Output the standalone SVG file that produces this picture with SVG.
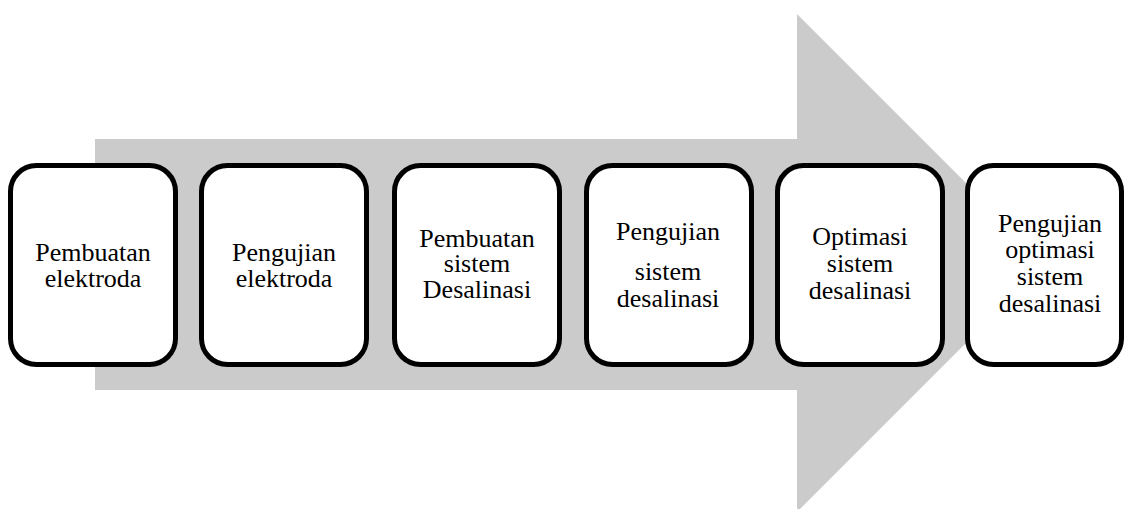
<svg xmlns="http://www.w3.org/2000/svg" width="1126" height="509" viewBox="0 0 1126 509">
<style>
.box{fill:#ffffff;stroke:#000000;stroke-width:5}
.lbl{font-size:26px;fill:#000000;text-anchor:middle}
</style>
<rect width="1126" height="509" fill="#ffffff"/>
<g id="connectors">
<path d="M95,139 L797,139 L797,14 L1046,263 L797,512 L797,390 L95,390 Z" fill="#cbcbcb"/>
</g>
<g font-family="'Liberation Serif', Tinos, 'Times New Roman', 'DejaVu Serif', serif">
<g id="n1">
<rect class="box" x="10.5" y="165.5" width="165" height="199" rx="26"/>
<text class="lbl" x="93" y="261">Pembuatan</text>
<text class="lbl" x="93" y="287">elektroda</text>
</g>
<g id="n2">
<rect class="box" x="201.5" y="165.5" width="165" height="199" rx="26"/>
<text class="lbl" x="284" y="261">Pengujian</text>
<text class="lbl" x="284" y="287">elektroda</text>
</g>
<g id="n3">
<rect class="box" x="394.5" y="165.5" width="165" height="199" rx="26"/>
<text class="lbl" x="477" y="247">Pembuatan</text>
<text class="lbl" x="477" y="272">sistem</text>
<text class="lbl" x="477" y="298">Desalinasi</text>
</g>
<g id="n4">
<rect class="box" x="586.5" y="165.5" width="165" height="199" rx="26"/>
<text class="lbl" x="668" y="240">Pengujian</text>
<text class="lbl" x="668" y="280">sistem</text>
<text class="lbl" x="668" y="307">desalinasi</text>
</g>
<g id="n5">
<rect class="box" x="777.5" y="165.5" width="165" height="199" rx="26"/>
<text class="lbl" x="860" y="245">Optimasi</text>
<text class="lbl" x="860" y="272">sistem</text>
<text class="lbl" x="860" y="299">desalinasi</text>
</g>
<g id="n6">
<rect class="box" x="967.5" y="165.5" width="154" height="199" rx="26"/>
<text class="lbl" x="1050" y="232">Pengujian</text>
<text class="lbl" x="1050" y="258">optimasi</text>
<text class="lbl" x="1050" y="285">sistem</text>
<text class="lbl" x="1050" y="312">desalinasi</text>
</g>
</g>
</svg>
